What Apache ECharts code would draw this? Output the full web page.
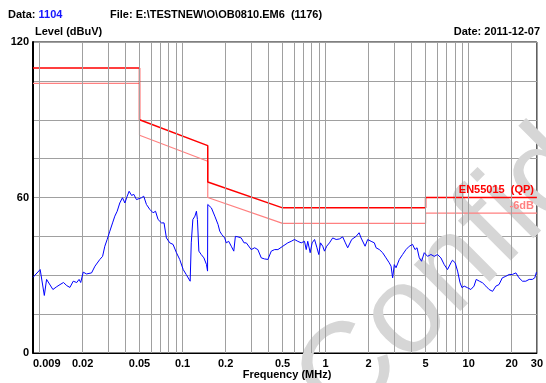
<!DOCTYPE html>
<html>
<head>
<meta charset="utf-8">
<script src="https://cdn.jsdelivr.net/npm/echarts@6/dist/echarts.min.js"></script>
<style>
html,body{margin:0;padding:0;background:#fff;}
#c{width:546px;height:383px;}
</style>
</head>
<body>
<div id="c"></div>
<script>
// Measured trace: frequency (MHz) and level (dBuV)
const traceFreq = [0.009,0.0101,0.0108,0.0112,0.0115,0.0124,0.0132,0.0139,0.0147,0.0155,0.0163,0.0172,0.0182,0.0189,0.0194,0.0202,0.0213,0.0231,0.0244,0.0250,0.0264,0.0276,0.0286,0.0297,0.0310,0.0324,0.0336,0.0349,0.0364,0.0380,0.0395,0.0410,0.0423,0.0440,0.0456,0.0476,0.0489,0.0516,0.0535,0.0559,0.0590,0.0622,0.0647,0.0674,0.0712,0.0742,0.0771,0.0814,0.0858,0.0906,0.0955,0.101,0.1035,0.106,0.109,0.113,0.115,0.118,0.122,0.125,0.127,0.130,0.135,0.141,0.147,0.1495,0.150,0.159,0.168,0.177,0.182,0.188,0.197,0.202,0.210,0.219,0.228,0.234,0.244,0.257,0.269,0.279,0.302,0.319,0.336,0.355,0.374,0.395,0.417,0.440,0.464,0.502,0.544,0.575,0.606,0.639,0.675,0.712,0.732,0.750,0.780,0.805,0.837,0.870,0.896,0.921,0.955,0.982,1.018,1.064,1.121,1.185,1.249,1.317,1.375,1.427,1.467,1.522,1.634,1.714,1.770,1.816,1.888,1.969,2.080,2.191,2.254,2.375,2.504,2.645,2.785,2.868,2.942,3.022,3.107,3.276,3.453,3.648,3.845,4.055,4.216,4.356,4.518,4.687,4.895,5.160,5.45,5.75,6.06,6.40,6.75,7.12,7.52,7.71,8.05,8.37,8.71,8.98,9.31,9.82,10.36,10.9,11.3,11.9,12.5,13.2,13.9,14.7,15.5,16.3,17.2,18.2,19.2,20.2,21.4,22.5,23.8,25.1,26.5,27.9,29.0,29.8];
const traceLevel = [29.2,32.2,22.2,28.4,28.4,24.5,25.6,26.4,27.2,26.0,25.3,27.7,27.2,28.4,27.2,31.2,30.5,30.9,33.5,32.9,36.1,37.3,41.2,43.8,47.0,50.2,52.8,54.7,57.9,59.9,57.9,60.5,62.4,60.8,61.2,59.2,58.6,59.9,60.5,57.3,55.4,54.1,54.7,51.5,50.2,50.2,44.4,42.5,41.9,38.7,36.1,32.2,32.9,30.3,29.6,27.7,42.5,51.5,52.8,54.7,51.5,39.3,38.0,36.7,34.1,31.6,57.3,56.0,52.8,49.6,47.0,45.7,44.4,42.5,43.1,41.2,39.3,45.0,44.8,44.4,42.5,42.5,39.9,40.6,39.9,36.7,36.3,36.1,39.3,39.9,39.9,41.2,42.5,43.1,43.8,43.1,42.5,43.1,39.9,43.1,38.7,42.5,43.8,40.6,38.0,42.5,41.2,39.3,41.2,42.5,44.4,43.8,44.0,44.8,42.5,40.6,39.9,43.8,45.0,46.4,44.4,45.0,41.2,43.8,43.1,42.5,40.6,39.9,38.7,36.7,34.8,33.5,29.0,34.1,32.9,36.1,38.0,39.9,41.2,41.9,39.9,40.6,36.7,35.4,38.7,37.3,38.0,37.3,38.0,36.7,34.1,32.2,34.8,35.8,34.8,31.6,27.1,25.2,25.8,25.2,24.5,25.8,28.4,27.7,27.1,25.8,24.5,23.8,25.8,26.4,29.0,29.6,30.3,30.3,30.9,29.0,27.7,27.7,28.4,28.4,29.0,31.2];

// EN55015 (QP) limit and the -6dB line
const limitFreq = [0.009,0.05,0.05,0.15,0.15,0.5,5,5,30];
const limitQP = [110,110,90,80,66,56,56,60,60];
const limitQP6 = [104,104,84,74,60,50,50,54,54];

// Axis ticks and grid
const xTickValues = [0.009,0.02,0.05,0.1,0.2,0.5,1,2,5,10,20,30];
const xTickLabels = ['0.009','0.02','0.05','0.1','0.2','0.5','1','2','5','10','20','30'];
const xGridValues = [0.01,0.02,0.03,0.04,0.05,0.06,0.07,0.08,0.09,0.1,0.2,0.3,0.4,0.5,0.6,0.7,0.8,0.9,1,2,3,4,5,6,7,8,9,10,20];
const yLabelValues = [0,60,120];

const FONT = 'Arial, "Liberation Sans", sans-serif';
const zip = (a,b) => a.map((v,i)=>[v,b[i]]);

const chart = echarts.init(document.getElementById('c'), null, {renderer:'canvas'});
chart.setOption({
  animation:false,
  backgroundColor:'#fff',
  grid:{left:33,right:8,top:42,bottom:30,show:true,borderColor:'#000',borderWidth:1,backgroundColor:'transparent'},
  xAxis:{
    type:'log', logBase:10, min:0.009, max:30,
    axisLine:{show:true,onZero:false,lineStyle:{color:'#000',width:1}},
    axisTick:{show:false},
    splitLine:{show:false},
    axisLabel:{
      customValues:xTickValues,
      formatter:(v)=>{
        let best=0,bd=1e9;
        xTickValues.forEach((t,i)=>{const d=Math.abs(Math.log10(v/t)); if(d<bd){bd=d;best=i;}});
        return xTickLabels[best];
      },
      color:'#000',fontWeight:'bold',fontSize:11,fontFamily:FONT,margin:5,
      alignMinLabel:'left',alignMaxLabel:'center',showMinLabel:true,showMaxLabel:true,hideOverlap:false
    }
  },
  yAxis:{
    type:'value',min:0,max:120,interval:15,
    axisLine:{show:true,lineStyle:{color:'#000',width:2}},
    axisTick:{show:false},
    splitLine:{show:true,lineStyle:{color:'#a0a0a0',width:1}},
    axisLabel:{
      formatter:(v)=> yLabelValues.indexOf(v)>=0 ? String(v) : '',
      color:'#000',fontWeight:'bold',fontSize:11,fontFamily:FONT,margin:4
    }
  },
  graphic:[
    {type:'text',z:1,x:318,y:405,rotation:45*Math.PI/180,
     style:{text:'Confidential',font:'normal 124px '+FONT,fill:'#d6d6d6',textAlign:'left',textVerticalAlign:'middle'}},
    {type:'text',z:10,x:8,y:15,style:{text:'{a|Data: }{b|1104}',rich:{a:{font:'bold 11px '+FONT,fill:'#000'},b:{font:'bold 11px '+FONT,fill:'#1414ff'}},textVerticalAlign:'middle'}},
    {type:'text',z:10,x:110,y:15,style:{text:'File: E:\\TESTNEW\\O\\OB0810.EM6  (1176)',font:'bold 11px '+FONT,fill:'#000',textVerticalAlign:'middle'}},
    {type:'text',z:10,x:35,y:32,style:{text:'Level (dBuV)',font:'bold 11px '+FONT,fill:'#000',textVerticalAlign:'middle'}},
    {type:'text',z:10,x:540,y:32,style:{text:'Date: 2011-12-07',font:'bold 11px '+FONT,fill:'#000',textAlign:'right',textVerticalAlign:'middle'}},
    {type:'text',z:10,x:287,y:375,style:{text:'Frequency (MHz)',font:'bold 11px '+FONT,fill:'#000',textAlign:'center',textVerticalAlign:'middle'}},
    {type:'text',z:10,x:534,y:190,style:{text:'EN55015  (QP)',font:'bold 11px '+FONT,fill:'#ff0000',textAlign:'right',textVerticalAlign:'middle'}},
    {type:'text',z:10,x:534,y:206,style:{text:'-6dB',font:'bold 11px '+FONT,fill:'#ff8080',textAlign:'right',textVerticalAlign:'middle'}}
  ],
  series:[
    {type:'line',name:'grid',data:[],z:1,silent:true,
     markLine:{silent:true,symbol:['none','none'],label:{show:false},animation:false,
       lineStyle:{color:'#a0a0a0',type:'solid',width:1},
       data:xGridValues.map(f=>({xAxis:f}))}},
    {type:'line',name:'-6dB',data:zip(limitFreq,limitQP6),showSymbol:false,z:3,
     lineStyle:{color:'#ff8080',width:1.2}},
    {type:'line',name:'EN55015 (QP)',data:zip(limitFreq,limitQP),showSymbol:false,z:3,
     lineStyle:{color:'#ff0000',width:1.5}},
    {type:'line',name:'Level',data:zip(traceFreq,traceLevel),showSymbol:false,z:5,
     lineStyle:{color:'#0000ff',width:1}}
  ]
});
</script>
</body>
</html>
